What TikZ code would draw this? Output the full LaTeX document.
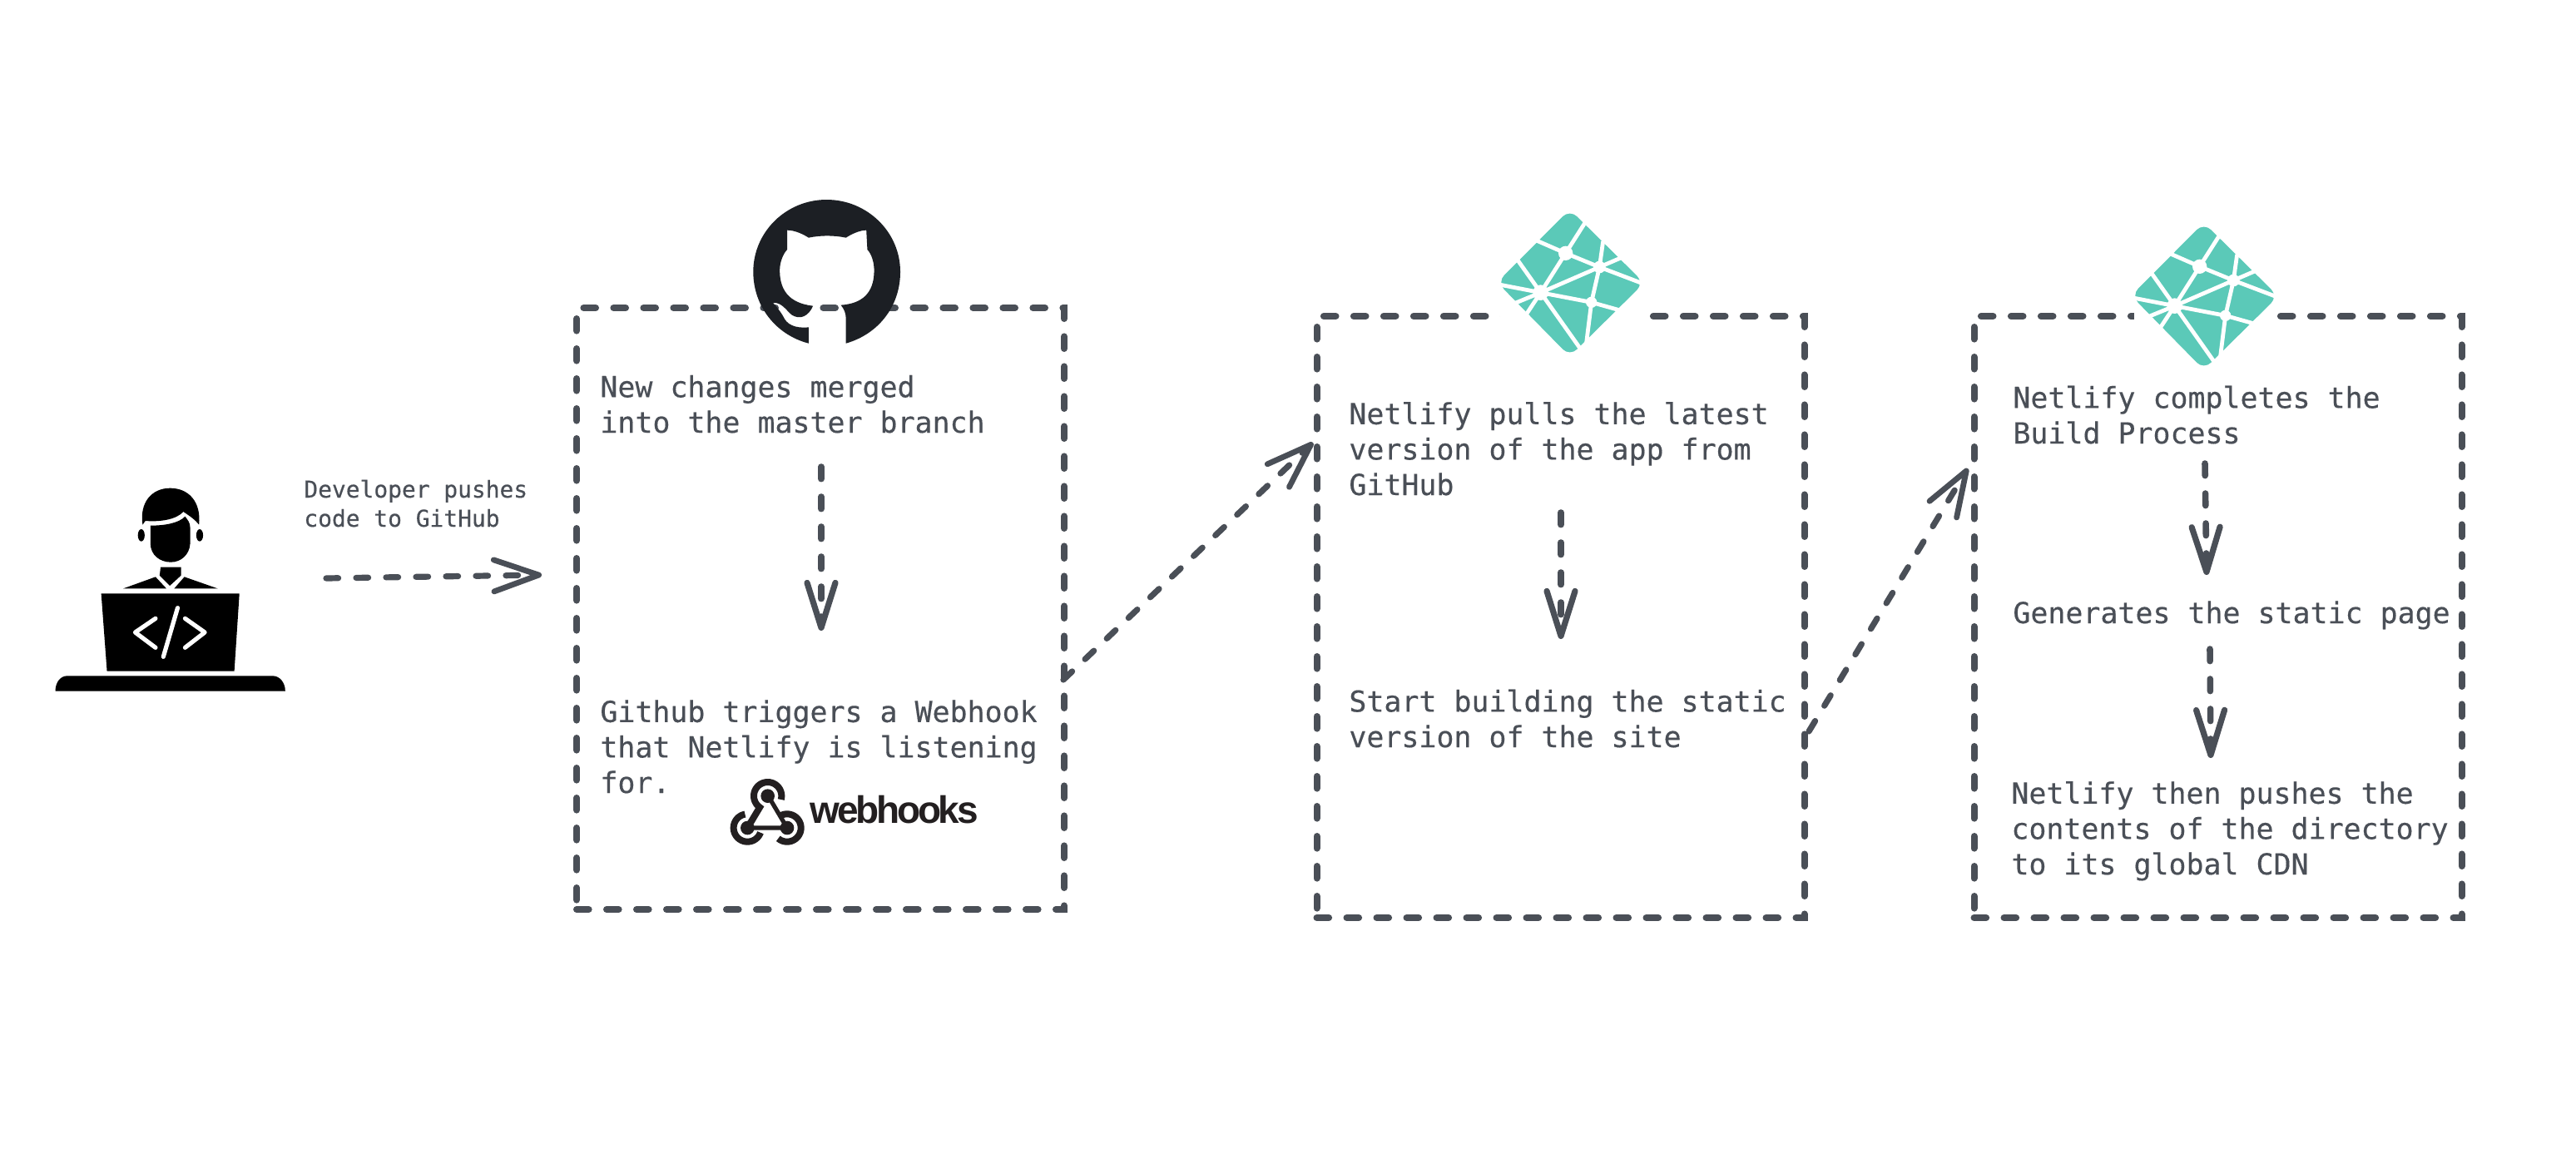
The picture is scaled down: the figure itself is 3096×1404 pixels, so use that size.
\documentclass[tikz,border=0pt]{standalone}
\usepackage{fontspec}
\usetikzlibrary{arrows.meta}
\newfontfamily\monofam[FakeBold=0.3]{DejaVu Sans Mono}
\newfontfamily\logofam[LetterSpace=-7]{Liberation Sans Bold}
\definecolor{ink}{HTML}{4A4F57}
\definecolor{teal}{HTML}{5BC9B8}
\definecolor{octo}{HTML}{1C1F24}
\definecolor{hook}{HTML}{231F20}
\tikzset{
  dashbox/.style={draw=ink,line width=4pt,line cap=round,dash pattern=on 7.3pt off 10.7pt,minimum width=293pt,minimum height=361.5pt,inner sep=0pt},
  bigtext/.style={text=ink,font=\monofam\fontsize{17.45pt}{21.3pt}\selectfont,align=left,anchor=base west,inner sep=0pt},
  smalltext/.style={text=ink,font=\monofam\fontsize{13.95pt}{17pt}\selectfont,align=left,anchor=base west,inner sep=0pt},
  flow/.style={draw=ink,line width=3.8pt,line cap=round,dash pattern=on 7.3pt off 10.7pt,-{Straight Barb[length=27pt,width=17pt,line width=3.6pt,round]}},
  flowbig/.style={draw=ink,line width=3.6pt,line cap=round,dash pattern=on 7.3pt off 10.7pt,-{Straight Barb[length=27pt,width=19pt,line width=3.4pt,round]}},
  netline/.style={draw=white,line width=2.4pt},
  codeline/.style={draw=white,line width=2.6pt,line cap=round,line join=round},
  hookring/.style={draw=hook,line width=4pt},
  hookbar/.style={draw=hook,line width=2.6pt}
}
\newcommand{\netlifylogo}{%
  \fill[white] (130,250) rectangle (645,600);
  \fill[teal,rounded corners=6pt] (380,35) -- (648,300) -- (380,565) -- (118,298) -- cycle;
  \foreach \a/\b/\c/\d in {440/75/365/193, 255/145/365/193, 365/193/275/335, 365/193/487/243,
     500/150/487/243, 575/205/487/243, 650/305/487/243, 487/243/275/335, 487/243/458/370,
     275/335/458/370, 190/215/275/335, 120/305/275/335, 185/372/275/335, 222/415/275/335,
     275/335/420/540, 458/370/440/515, 458/370/565/400}
     {\draw[netline] (\a,\b) -- (\c,\d);}
  \fill[white] (365,193) circle[radius=13pt];
  \fill[white] (487,243) circle[radius=11pt];
  \fill[white] (275,335) circle[radius=14pt];
  \fill[white] (458,370) circle[radius=10pt];
}
\begin{document}
\begin{tikzpicture}[x=0.5pt,y=-0.5pt]
\useasboundingbox (0,0) rectangle (3096,1404);
\fill[white] (0,0) rectangle (3096,1404);

% boxes
\node[dashbox] (box1) at (986,731.5) {};
\node[dashbox] (box2) at (1875.5,741.5) {};
\node[dashbox] (box3) at (2665.5,741.5) {};

% developer icon
\begin{scope}[shift={(40,560)},xscale=1/2.45,yscale=1/3]
  \fill[black] (322,212) .. controls (312,130) and (350,80) .. (403,80) .. controls (458,80) and (495,130) .. (488,212) .. controls (478,195) and (460,180) .. (442,165) .. controls (420,195) and (370,202) .. (330,198) -- cycle;
  \fill[black] (345,215) .. controls (390,215) and (430,205) .. (447,182) .. controls (455,195) and (462,205) .. (462,222) -- (462,280) .. controls (460,320) and (435,347) .. (405,347) .. controls (372,347) and (345,320) .. (345,280) -- cycle;
  \fill[black] (318,250) ellipse[x radius=10,y radius=22];
  \fill[black] (490,250) ellipse[x radius=10,y radius=22];
  \fill[black] (375,365) -- (435,365) -- (435,395) -- (402,432) -- (372,395) -- cycle;
  \fill[black] (265,442) -- (360,400) -- (392,442) -- cycle;
  \fill[black] (415,442) -- (445,400) -- (543,442) -- cycle;
  \fill[black] (200,460) -- (607,460) -- (592,740) -- (217,740) -- cycle;
  \draw[codeline] (360,550) -- (300,600) -- (360,655);
  \draw[codeline] (447,550) -- (505,600) -- (447,655);
  \draw[codeline] (425,512) -- (383,688);
  \fill[black] (65,812) .. controls (65,780) and (80,757) .. (100,757) -- (705,757) .. controls (725,757) and (742,780) .. (742,812) -- cycle;
\end{scope}

% github mark
\begin{scope}[shift={(680,220)},xscale=1/2.45,yscale=1/3]
  \fill[octo] (825,578) .. controls (920,545) and (985,445) .. (985,320)
    .. controls (985,176) and (887,60) .. (768,60)
    .. controls (649,60) and (552,176) .. (552,320)
    .. controls (552,445) and (620,548) .. (715,578)
    -- (715,520) .. controls (675,525) and (650,510) .. (640,480)
    .. controls (630,460) and (620,445) .. (610,432)
    .. controls (635,428) and (650,460) .. (665,475)
    .. controls (690,495) and (715,480) .. (728,443)
    .. controls (670,435) and (630,400) .. (630,315)
    .. controls (630,285) and (640,255) .. (652,240)
    -- (652,170) .. controls (675,170) and (700,185) .. (715,197)
    .. controls (750,188) and (790,188) .. (825,197)
    .. controls (840,185) and (865,170) .. (885,170)
    -- (888,240) .. controls (900,255) and (908,285) .. (908,315)
    .. controls (908,400) and (870,435) .. (810,440)
    .. controls (820,455) and (825,470) .. (825,490) -- cycle;
\end{scope}

% netlify marks
\begin{scope}[shift={(1760,240)},scale=1/3]
  \netlifylogo
\end{scope}
\begin{scope}[shift={(2522,256)},scale=1/3]
  \netlifylogo
\end{scope}

% webhooks mark
\begin{scope}[shift={(840,900)},scale=1/3]
  \draw[hookring] plot[domain=15:-235,samples=40] ({248+50*cos(\x)},{170+50*sin(\x)}) -- (175,285);
  \draw[hookring] plot[domain=-100:-340,samples=40] ({175+50*cos(\x)},{285+50*sin(\x)});
  \draw[hookring] plot[domain=130:-120,samples=40] ({318+50*cos(\x)},{285+50*sin(\x)});
  \draw[hookbar] (250,170) -- (318,285) -- (175,285);
  \fill[hook] (248,170) circle[radius=12.5pt];
  \fill[hook] (175,285) circle[radius=12.5pt];
  \fill[hook] (318,285) circle[radius=12.5pt];
\end{scope}
\node[text=hook,font=\logofam\fontsize{23pt}{26pt}\selectfont,anchor=base west,inner sep=0pt] (hooktext) at (973,989) {webhooks};

% texts
\node[smalltext] (t0a) at (365,598) {Developer pushes};
\node[smalltext] (t0b) at (365,633) {code to GitHub};
\node[bigtext] (t1) at (721,520) {New changes merged\\into the master branch};
\node[bigtext] (t2) at (721,953) {Github triggers a Webhook\\that Netlify is listening\\for.};
\node[bigtext] (t3) at (1621,595) {Netlify pulls the latest\\version of the app from\\GitHub};
\node[bigtext] (t4) at (1621,898) {Start building the static\\version of the site};
\node[bigtext] (t5) at (2419,533) {Netlify completes the\\Build Process};
\node[bigtext] (t6) at (2419,749) {Generates the static page};
\node[bigtext] (t7) at (2417,1051) {Netlify then pushes the\\contents of the directory\\to its global CDN};

% connectors
\coordinate (a0) at (392,695); \coordinate (a1) at (651,691);
\coordinate (b0) at (987,561); \coordinate (b1) at (987,758);
\coordinate (c0) at (1278,817); \coordinate (c1) at (1578,532);
\coordinate (d0) at (1876,616); \coordinate (d1) at (1876,768);
\coordinate (e0) at (2174,879); \coordinate (e1) at (2365,563);
\coordinate (f0) at (2650,557); \coordinate (f1) at (2652,691);
\coordinate (g0) at (2656,780); \coordinate (g1) at (2657,911);
\draw[flowbig] (a0) -- (a1);
\draw[flow] (b0) -- (b1);
\draw[flowbig] (c0) -- (c1);
\draw[flow] (d0) -- (d1);
\draw[flowbig] (e0) -- (e1);
\draw[flow] (f0) -- (f1);
\draw[flow] (g0) -- (g1);
\end{tikzpicture}
\end{document}
